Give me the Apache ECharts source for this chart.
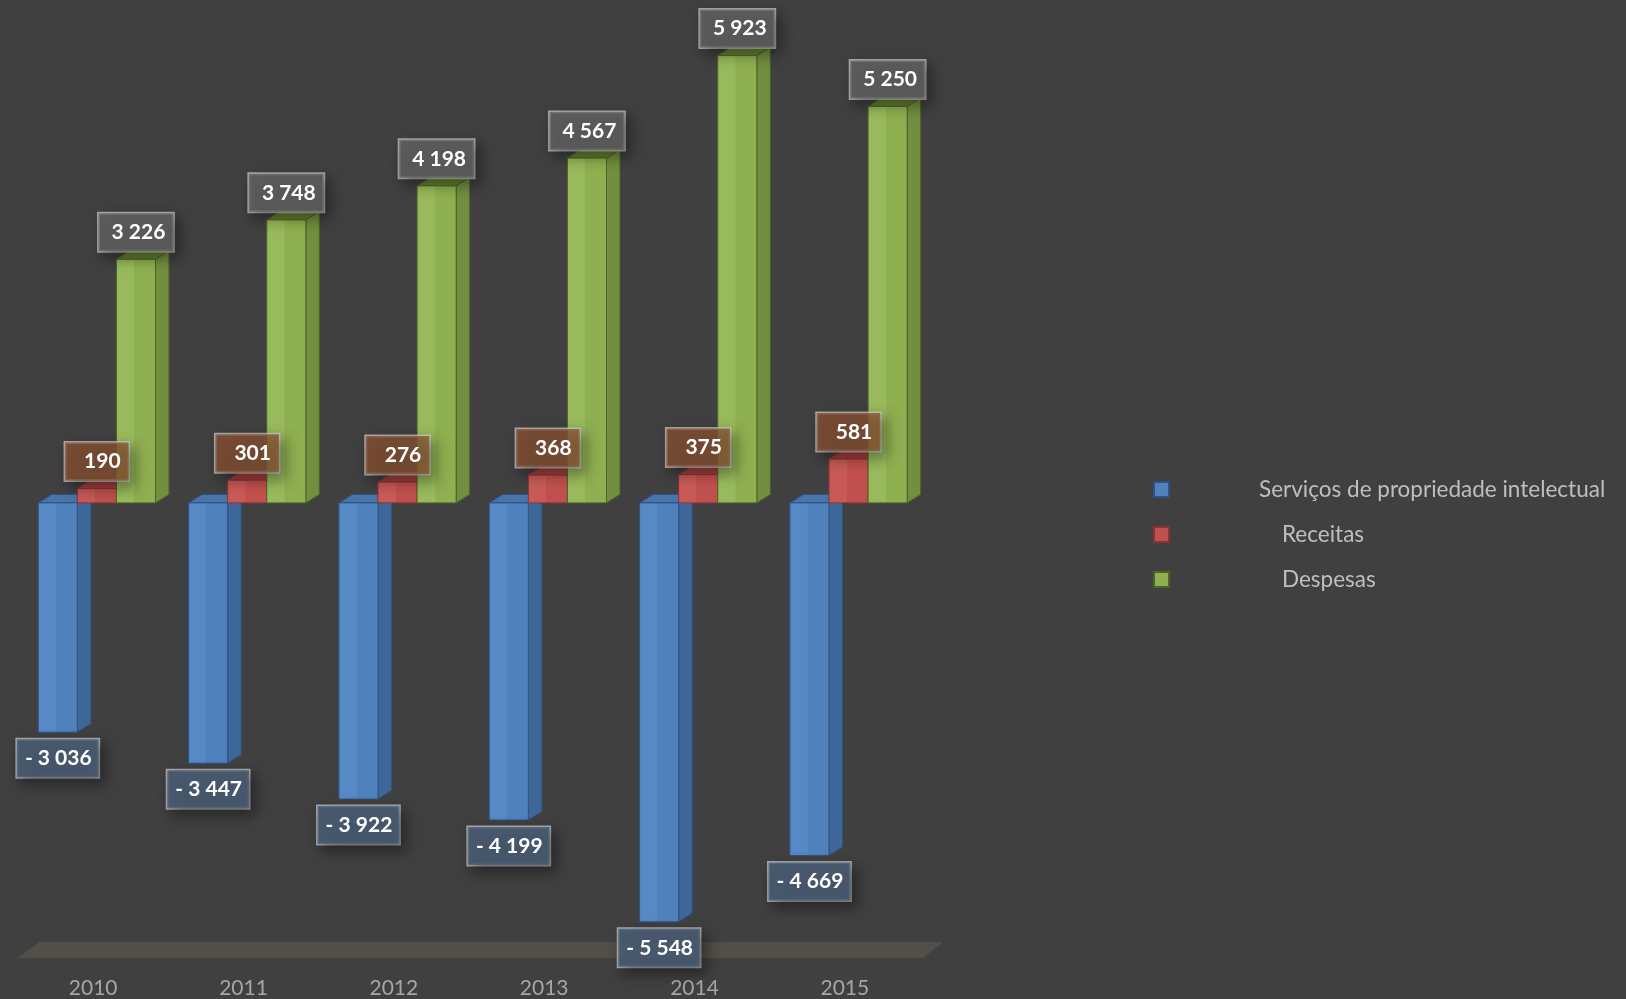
<!DOCTYPE html>
<html>
<head>
<meta charset="utf-8">
<script src="https://cdn.jsdelivr.net/npm/echarts@6/dist/echarts.min.js"></script>
<style>
  html, body { margin: 0; padding: 0; background: #404040; }
  #chart { width: 1626px; height: 999px; }
</style>
</head>
<body>
<div id="chart"></div>
<script>
var years = ['2010', '2011', '2012', '2013', '2014', '2015'];
var servicos = [-3036, -3447, -3922, -4199, -5548, -4669];
var receitas = [190, 301, 276, 368, 375, 581];
var despesas = [3226, 3748, 4198, 4567, 5923, 5250];
var seriesNames = ['Serviços de propriedade intelectual', 'Receitas', 'Despesas'];

// 3D look: depth offset of each prism
var DEPTH_X = 13.5;
var DEPTH_Y = 8.5;
var BAR_RATIO = 0.26;
var GROUP_SHIFT = 3.7;

var looks = [
  { front: '#4f81bd', light: '#5689c6', side: '#3d6798', top: '#4874ab', stroke: '#2f5283',
    labelBg: 'rgba(75,95,120,0.85)', pad: [7, 7, 7, 8] },
  { front: '#c0504d', light: '#c75a57', side: '#973c3a', top: '#a2403d', stroke: '#8a3432',
    labelBg: 'rgba(135,82,50,0.78)', pad: [7, 8, 7, 19] },
  { front: '#8fb050', light: '#98ba5c', side: '#728f3f', top: '#62802f', stroke: '#4f6228',
    labelBg: 'rgba(100,100,100,0.8)', pad: [7, 8, 7, 13] }
];

var fmt = function (v) {
  var s = String(Math.abs(v)).replace(/\B(?=(\d{3})+(?!\d))/g, ' ');
  return v < 0 ? '- ' + s : s;
};

var makeRender = function (k) {
  var look = looks[k];
  return function (params, api) {
    var idx = api.value(0);
    var val = api.value(1);
    var base = api.coord([idx, 0]);
    var end = api.coord([idx, val]);
    var band = api.size([1, 0])[0];
    var w = band * BAR_RATIO;
    var cx = base[0] + GROUP_SHIFT + (k - 1) * w;
    var x0 = cx - w / 2;
    var x1 = cx + w / 2;
    var yTop = Math.min(base[1], end[1]);
    var yBot = Math.max(base[1], end[1]);
    var edge = { stroke: look.stroke, lineWidth: 1 };

    var label = {
      type: 'text',
      z2: 100,
      x: cx,
      y: val >= 0 ? yTop - 8 : yBot + 7,
      style: {
        text: fmt(val),
        fill: '#ffffff',
        font: 'bold 21px Lato, "Noto Sans", sans-serif',
        align: 'center',
        verticalAlign: val >= 0 ? 'bottom' : 'top',
        lineHeight: 24,
        backgroundColor: look.labelBg,
        borderColor: 'rgba(205,205,205,0.75)',
        borderWidth: 1.5,
        padding: look.pad,
        shadowColor: 'rgba(0,0,0,0.45)',
        shadowBlur: 14,
        shadowOffsetX: 5,
        shadowOffsetY: 6
      }
    };

    return {
      type: 'group',
      children: [
        {
          type: 'polygon',
          shape: { points: [[x1, yTop], [x1 + DEPTH_X, yTop - DEPTH_Y], [x1 + DEPTH_X, yBot - DEPTH_Y], [x1, yBot]] },
          style: Object.assign({ fill: look.side }, edge)
        },
        {
          type: 'polygon',
          shape: { points: [[x0, yTop], [x1, yTop], [x1 + DEPTH_X, yTop - DEPTH_Y], [x0 + DEPTH_X, yTop - DEPTH_Y]] },
          style: Object.assign({ fill: look.top }, edge)
        },
        {
          type: 'rect',
          shape: { x: x0, y: yTop, width: w, height: yBot - yTop },
          style: Object.assign({
            fill: new echarts.graphic.LinearGradient(0, 0, 1, 0, [
              { offset: 0, color: look.light },
              { offset: 0.45, color: look.light },
              { offset: 0.46, color: look.front },
              { offset: 1, color: look.front }
            ])
          }, edge)
        },
        label
      ]
    };
  };
};

var toData = function (arr) {
  return arr.map(function (v, i) { return [i, v]; });
};

var chart = echarts.init(document.getElementById('chart'));

var legendText = { color: '#bfbfbf', fontSize: 22.5, fontFamily: 'Lato, "Noto Sans", sans-serif' };

chart.setOption({
  backgroundColor: '#404040',
  animation: false,
  grid: { left: 18, right: 706, top: 12, bottom: 43 },
  legend: [
    { data: [seriesNames[0]], left: 1148, top: 473, itemWidth: 15, itemHeight: 15, icon: 'rect',
      textStyle: Object.assign({ padding: [0, 0, 0, 85] }, legendText) },
    { data: [seriesNames[1]], left: 1148, top: 518, itemWidth: 15, itemHeight: 15, icon: 'rect',
      textStyle: Object.assign({ padding: [0, 0, 0, 108] }, legendText) },
    { data: [seriesNames[2]], left: 1148, top: 563, itemWidth: 15, itemHeight: 15, icon: 'rect',
      textStyle: Object.assign({ padding: [0, 0, 0, 108] }, legendText) }
  ],
  graphic: [
    {
      type: 'polygon',
      z: 0,
      shape: { points: [[18, 958], [39, 942], [943, 942], [923, 958]] },
      style: { fill: '#524f48' }
    }
  ],
  xAxis: {
    type: 'category',
    data: years,
    axisLine: { show: false },
    axisTick: { show: false },
    axisLabel: { color: '#a6a6a6', fontSize: 21, fontFamily: 'Lato, "Noto Sans", sans-serif', margin: 22 }
  },
  yAxis: {
    type: 'value',
    min: -6000,
    max: 6500,
    show: false,
    splitLine: { show: false }
  },
  series: [servicos, receitas, despesas].map(function (arr, k) {
    return {
      name: seriesNames[k],
      type: 'custom',
      renderItem: makeRender(k),
      encode: { x: 0, y: 1 },
      itemStyle: { color: looks[k].front, borderColor: looks[k].stroke, borderWidth: 1.5 },
      data: toData(arr)
    };
  })
});
</script>
</body>
</html>
